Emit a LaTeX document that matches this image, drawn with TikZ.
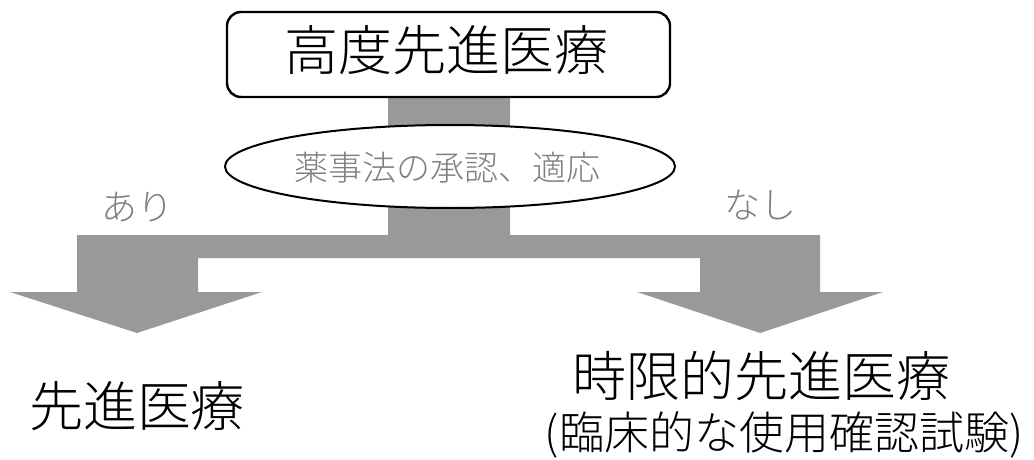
\documentclass[tikz,border=0pt]{standalone}
\usepackage{fontspec}
\setmainfont{Noto Sans CJK JP}
\newfontfamily\cjk{Noto Sans CJK JP}[UprightFont={* Light}]
\usetikzlibrary{shapes.geometric}
\definecolor{bargray}{gray}{0.6}
\definecolor{labgray}{gray}{0.5}
\tikzset{
  maintext/.style={font=\cjk\fontsize{54}{60}\selectfont, inner sep=0pt, text=black},
  graytext/.style={inner sep=0pt, text=labgray},
  topbox/.style={draw=black, line width=2.4pt, rounded corners=14pt, fill=white, minimum width=443pt, minimum height=85pt, inner sep=0pt},
  condition/.style={ellipse, draw=black, line width=2pt, fill=white, minimum width=450pt, minimum height=83pt, inner sep=0pt},
  flowbar/.style={fill=bargray, draw=none}
}
\begin{document}
\begin{tikzpicture}[x=1pt,y=-1pt]
\useasboundingbox (0,0) rectangle (1034,460);
% gray T-shaped flow with two arrows
\fill[flowbar] (388,97) -- (510,97) -- (510,235) -- (820,235) -- (820,292)
  -- (883,292) -- (760,333) -- (637,292) -- (700,292) -- (700,258)
  -- (198,258) -- (198,292) -- (262,292) -- (137,333) -- (10,292)
  -- (77,292) -- (77,235) -- (388,235) -- cycle;
% top box
\node[topbox] (top) at (448.5,54.5) {};
\node[maintext] (toptext) at (446,50) {高度先進医療};
% condition ellipse
\node[condition] (cond) at (450,166.5) {};
\node[graytext, font=\cjk\fontsize{34}{40}\selectfont] (condtext) at (447,168) {薬事法の承認、適応};
% branch labels
\node[graytext, font=\cjk\fontsize{36}{40}\selectfont] (yes) at (137,207) {あり};
\node[graytext, font=\cjk\fontsize{36}{40}\selectfont] (no) at (760,205) {なし};
% results
\node[maintext] (left) at (137,406) {先進医療};
\node[maintext] (right1) at (761,376) {時限的先進医療};
\node[inner sep=0pt, font=\cjk\fontsize{45}{50}\selectfont] (right2) at (784,435) {(臨床的な使用確認試験)};
\end{tikzpicture}
\end{document}
